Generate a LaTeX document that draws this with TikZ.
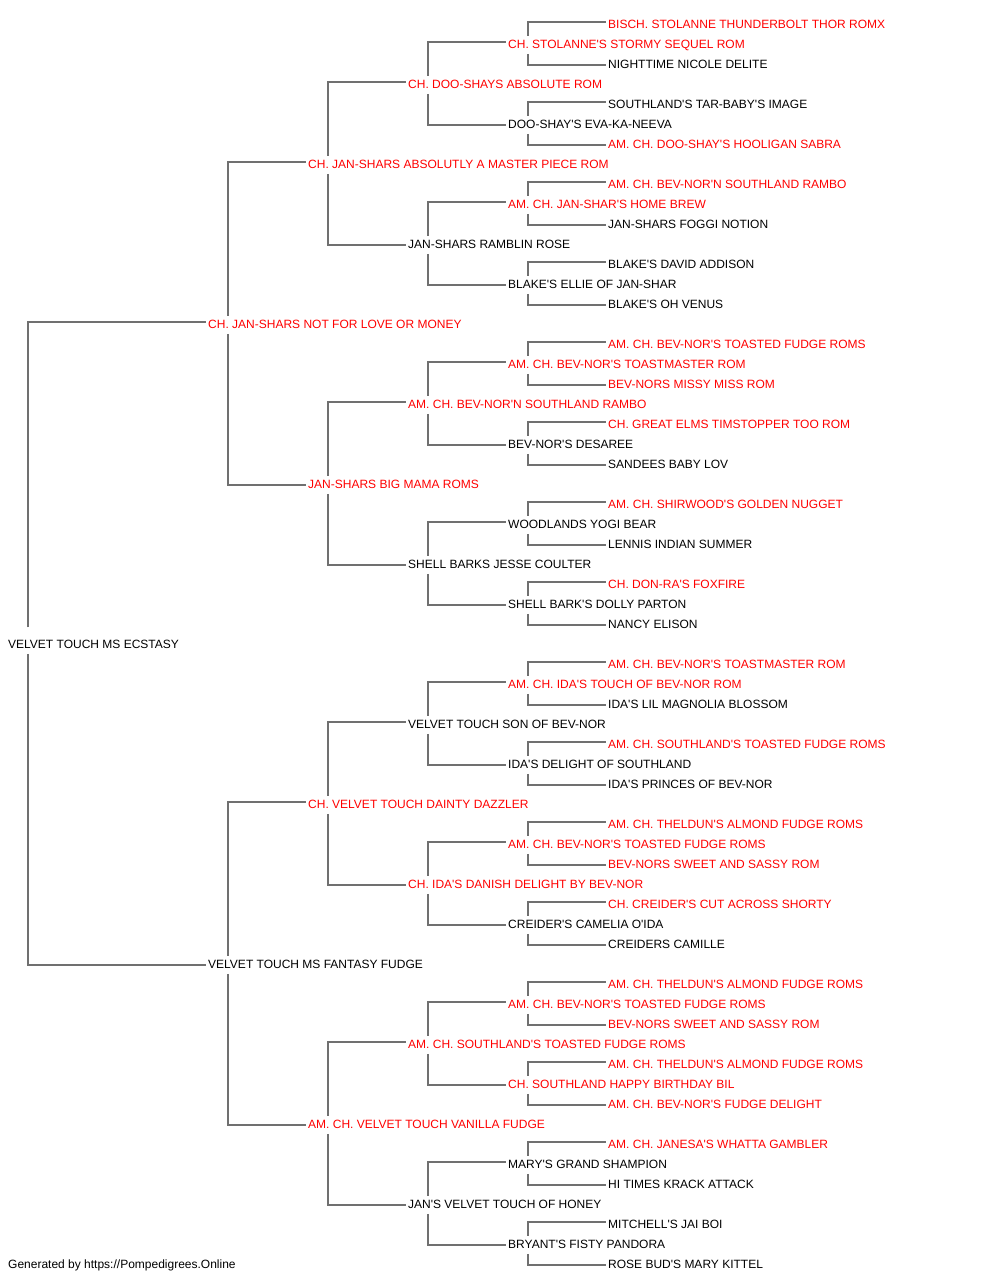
\documentclass[tikz,border=0pt]{standalone}
\usepackage{fontspec}
\setmainfont{Liberation Sans}
\definecolor{pedred}{RGB}{255,0,0}
\definecolor{pedline}{RGB}{112,112,112}
\newcommand\pedfont{\fontsize{12bp}{14bp}\selectfont}
\newcommand\q{\textquotesingle}
\tikzset{
  nm/.style={anchor=west, inner xsep=2bp, inner ysep=0pt, text height=8.6bp, text depth=0pt, font=\pedfont},
  rd/.style={nm, text=pedred},
  bk/.style={nm, text=black},
  ln/.style={draw=pedline, line width=1.9bp}
}
% #1 parent, #2 sire, #3 dam, #4 gap above parent text
\newcommand\pedlink[4]{%
  \draw[ln] ([xshift=22bp,yshift=#4]#1.north west) |- ([yshift=1.5bp]#2.west);
  \draw[ln] ([xshift=22bp,yshift=-5.5bp]#1.south west) |- ([yshift=-1bp]#3.west);
}
\begin{document}
\begin{tikzpicture}[x=1bp,y=-1bp]
\useasboundingbox (0,-0.8) rectangle (1000,1279.2);
% generation 0
\node[bk] (n31) at (6,643) {VELVET TOUCH MS ECSTASY};
% generation 1
\node[rd] (n15) at (206,323) {CH. JAN-SHARS NOT FOR LOVE OR MONEY};
\node[bk] (n47) at (206,963) {VELVET TOUCH MS FANTASY FUDGE};
% generation 2
\node[rd] (n7) at (306,163) {CH. JAN-SHARS ABSOLUTLY A MASTER PIECE ROM};
\node[rd] (n23) at (306,483) {JAN-SHARS BIG MAMA ROMS};
\node[rd] (n39) at (306,803) {CH. VELVET TOUCH DAINTY DAZZLER};
\node[rd] (n55) at (306,1123) {AM. CH. VELVET TOUCH VANILLA FUDGE};
% generation 3
\node[rd] (n3) at (406,83) {CH. DOO-SHAYS ABSOLUTE ROM};
\node[bk] (n11) at (406,243) {JAN-SHARS RAMBLIN ROSE};
\node[rd] (n19) at (406,403) {AM. CH. BEV-NOR\q N SOUTHLAND RAMBO};
\node[bk] (n27) at (406,563) {SHELL BARKS JESSE COULTER};
\node[bk] (n35) at (406,723) {VELVET TOUCH SON OF BEV-NOR};
\node[rd] (n43) at (406,883) {CH. IDA\q S DANISH DELIGHT BY BEV-NOR};
\node[rd] (n51) at (406,1043) {AM. CH. SOUTHLAND\q S TOASTED FUDGE ROMS};
\node[bk] (n59) at (406,1203) {JAN\q S VELVET TOUCH OF HONEY};
% generation 4
\node[rd] (n1) at (506,43) {CH. STOLANNE\q S STORMY SEQUEL ROM};
\node[bk] (n5) at (506,123) {DOO-SHAY\q S EVA-KA-NEEVA};
\node[rd] (n9) at (506,203) {AM. CH. JAN-SHAR\q S HOME BREW};
\node[bk] (n13) at (506,283) {BLAKE\q S ELLIE OF JAN-SHAR};
\node[rd] (n17) at (506,363) {AM. CH. BEV-NOR\q S TOASTMASTER ROM};
\node[bk] (n21) at (506,443) {BEV-NOR\q S DESAREE};
\node[bk] (n25) at (506,523) {WOODLANDS YOGI BEAR};
\node[bk] (n29) at (506,603) {SHELL BARK\q S DOLLY PARTON};
\node[rd] (n33) at (506,683) {AM. CH. IDA\q S TOUCH OF BEV-NOR ROM};
\node[bk] (n37) at (506,763) {IDA\q S DELIGHT OF SOUTHLAND};
\node[rd] (n41) at (506,843) {AM. CH. BEV-NOR\q S TOASTED FUDGE ROMS};
\node[bk] (n45) at (506,923) {CREIDER\q S CAMELIA O\q IDA};
\node[rd] (n49) at (506,1003) {AM. CH. BEV-NOR\q S TOASTED FUDGE ROMS};
\node[rd] (n53) at (506,1083) {CH. SOUTHLAND HAPPY BIRTHDAY BIL};
\node[bk] (n57) at (506,1163) {MARY\q S GRAND SHAMPION};
\node[bk] (n61) at (506,1243) {BRYANT\q S FISTY PANDORA};
% generation 5
\node[rd] (n0) at (606,23) {BISCH. STOLANNE THUNDERBOLT THOR ROMX};
\node[bk] (n2) at (606,63) {NIGHTTIME NICOLE DELITE};
\node[bk] (n4) at (606,103) {SOUTHLAND\q S TAR-BABY\q S IMAGE};
\node[rd] (n6) at (606,143) {AM. CH. DOO-SHAY\q S HOOLIGAN SABRA};
\node[rd] (n8) at (606,183) {AM. CH. BEV-NOR\q N SOUTHLAND RAMBO};
\node[bk] (n10) at (606,223) {JAN-SHARS FOGGI NOTION};
\node[bk] (n12) at (606,263) {BLAKE\q S DAVID ADDISON};
\node[bk] (n14) at (606,303) {BLAKE\q S OH VENUS};
\node[rd] (n16) at (606,343) {AM. CH. BEV-NOR\q S TOASTED FUDGE ROMS};
\node[rd] (n18) at (606,383) {BEV-NORS MISSY MISS ROM};
\node[rd] (n20) at (606,423) {CH. GREAT ELMS TIMSTOPPER TOO ROM};
\node[bk] (n22) at (606,463) {SANDEES BABY LOV};
\node[rd] (n24) at (606,503) {AM. CH. SHIRWOOD\q S GOLDEN NUGGET};
\node[bk] (n26) at (606,543) {LENNIS INDIAN SUMMER};
\node[rd] (n28) at (606,583) {CH. DON-RA\q S FOXFIRE};
\node[bk] (n30) at (606,623) {NANCY ELISON};
\node[rd] (n32) at (606,663) {AM. CH. BEV-NOR\q S TOASTMASTER ROM};
\node[bk] (n34) at (606,703) {IDA\q S LIL MAGNOLIA BLOSSOM};
\node[rd] (n36) at (606,743) {AM. CH. SOUTHLAND\q S TOASTED FUDGE ROMS};
\node[bk] (n38) at (606,783) {IDA\q S PRINCES OF BEV-NOR};
\node[rd] (n40) at (606,823) {AM. CH. THELDUN\q S ALMOND FUDGE ROMS};
\node[rd] (n42) at (606,863) {BEV-NORS SWEET AND SASSY ROM};
\node[rd] (n44) at (606,903) {CH. CREIDER\q S CUT ACROSS SHORTY};
\node[bk] (n46) at (606,943) {CREIDERS CAMILLE};
\node[rd] (n48) at (606,983) {AM. CH. THELDUN\q S ALMOND FUDGE ROMS};
\node[rd] (n50) at (606,1023) {BEV-NORS SWEET AND SASSY ROM};
\node[rd] (n52) at (606,1063) {AM. CH. THELDUN\q S ALMOND FUDGE ROMS};
\node[rd] (n54) at (606,1103) {AM. CH. BEV-NOR\q S FUDGE DELIGHT};
\node[rd] (n56) at (606,1143) {AM. CH. JANESA\q S WHATTA GAMBLER};
\node[bk] (n58) at (606,1183) {HI TIMES KRACK ATTACK};
\node[bk] (n60) at (606,1223) {MITCHELL\q S JAI BOI};
\node[bk] (n62) at (606,1263) {ROSE BUD\q S MARY KITTEL};
% footer
\node[bk] (foot) at (6,1263) {Generated by https://Pompedigrees.Online};
% connectors
\pedlink{n31}{n15}{n47}{12bp}
\pedlink{n15}{n7}{n23}{3.5bp}
\pedlink{n47}{n39}{n55}{3.5bp}
\foreach \p/\s/\d in {7/3/11, 23/19/27, 39/35/43, 55/51/59,
  3/1/5, 11/9/13, 19/17/21, 27/25/29, 35/33/37, 43/41/45, 51/49/53, 59/57/61,
  1/0/2, 5/4/6, 9/8/10, 13/12/14, 17/16/18, 21/20/22, 25/24/26, 29/28/30,
  33/32/34, 37/36/38, 41/40/42, 45/44/46, 49/48/50, 53/52/54, 57/56/58, 61/60/62}{
  \pedlink{n\p}{n\s}{n\d}{3.5bp}
}
\end{tikzpicture}
\end{document}
